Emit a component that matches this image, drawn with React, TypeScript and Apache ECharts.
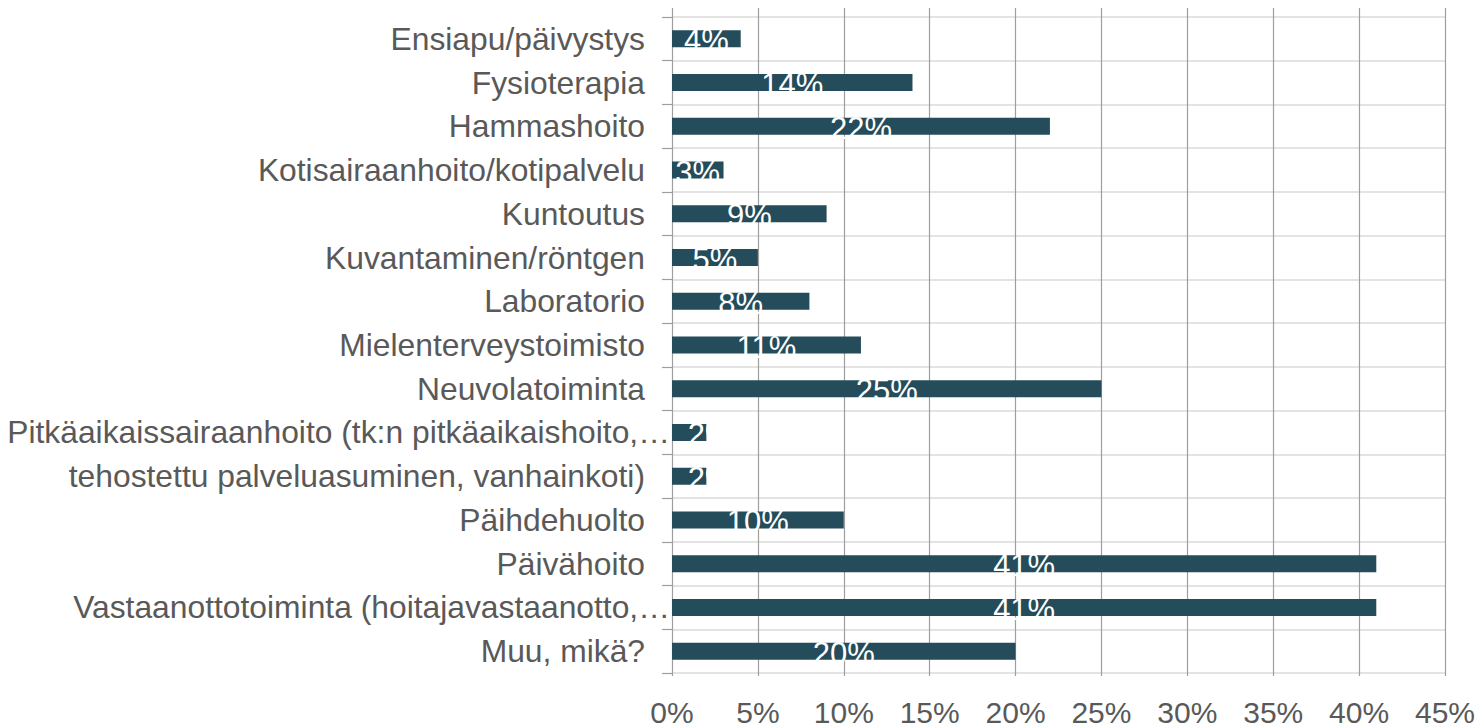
import React, { useEffect, useRef } from "react";
import * as echarts from "echarts";

const categories = [
  "Ensiapu/päivystys",
  "Fysioterapia",
  "Hammashoito",
  "Kotisairaanhoito/kotipalvelu",
  "Kuntoutus",
  "Kuvantaminen/röntgen",
  "Laboratorio",
  "Mielenterveystoimisto",
  "Neuvolatoiminta",
  "Pitkäaikaissairaanhoito (tk:n pitkäaikaishoito,…",
  "tehostettu palveluasuminen, vanhainkoti)",
  "Päihdehuolto",
  "Päivähoito",
  "Vastaanottotoiminta (hoitajavastaanotto,…",
  "Muu, mikä?",
];

const values = [4, 14, 22, 3, 9, 5, 8, 11, 25, 2, 2, 10, 41, 41, 20];

const truncatedLabels = [
  "Pitkäaikaissairaanhoito (tk:n pitkäaikaishoito,…",
  "Vastaanottotoiminta (hoitajavastaanotto,…",
];

const xMin = 0;
const xMax = 45;
const xInterval = 5;

export default function App() {
  const ref = useRef<HTMLDivElement>(null);

  useEffect(() => {
    if (!ref.current) return;
    const chart = echarts.init(ref.current, null, { renderer: "svg" });
    const font = "'Liberation Sans', Arial, sans-serif";
    const labelSize = 31.8;
    const seriesData = values.map((v) =>
      v < 3 ? { value: v, label: { offset: [21, 2] } } : v
    );
    chart.setOption({
      animation: false,
      backgroundColor: "#ffffff",
      textStyle: { fontFamily: font },
      grid: [
        { left: 672, right: 34, top: 17, bottom: 51, containLabel: false },
        { left: 672, right: 34, top: 8, bottom: 51, containLabel: false },
      ],
      xAxis: [
        {
          type: "value",
          gridIndex: 0,
          min: xMin,
          max: xMax,
          interval: xInterval,
          axisLine: { show: false },
          axisTick: { show: false },
          splitLine: { show: false },
          axisLabel: {
            formatter: (v: number) => `${v}%`,
            color: "#595959",
            fontSize: 30,
            fontFamily: font,
            margin: 24,
          },
        },
        {
          type: "value",
          gridIndex: 1,
          min: xMin,
          max: xMax,
          interval: xInterval,
          axisLine: { show: false },
          axisTick: { show: false },
          axisLabel: { show: false },
          splitLine: { show: true, lineStyle: { color: "#9e9e9e", width: 1.2 } },
        },
      ],
      yAxis: [
        {
          type: "category",
          gridIndex: 0,
          data: categories,
          inverse: true,
          axisLine: { show: false },
          axisTick: { show: true, length: 10, lineStyle: { color: "#9e9e9e", width: 1.2 } },
          splitLine: { show: true, lineStyle: { color: "#e3e3e3", width: 2 } },
          axisLabel: {
            margin: 2,
            color: "#595959",
            fontSize: labelSize,
            fontFamily: font,
            formatter: (v: string) =>
              truncatedLabels.includes(v) ? `{t|${v}}` : `{n|${v}}`,
            rich: {
              n: {
                color: "#595959",
                fontSize: labelSize,
                fontFamily: font,
                padding: [0, 25, 0, 0],
              },
              t: {
                color: "#595959",
                fontSize: labelSize,
                fontFamily: font,
              },
            },
          },
        },
        {
          type: "value",
          gridIndex: 1,
          show: false,
        },
      ],
      series: [
        {
          type: "bar",
          xAxisIndex: 0,
          yAxisIndex: 0,
          data: seriesData,
          barWidth: 17,
          itemStyle: { color: "#244c5a" },
          label: {
            show: true,
            position: "inside",
            formatter: (p: any) => `${p.value}%`,
            color: "#ffffff",
            fontSize: 31,
            fontFamily: font,
            offset: [0, 2],
          },
          z: 3,
        },
      ],
    });
    return () => chart.dispose();
  }, []);

  return (
    <div
      ref={ref}
      style={{ position: "fixed", left: 0, top: 0, width: 1479, height: 727 }}
    />
  );
}
